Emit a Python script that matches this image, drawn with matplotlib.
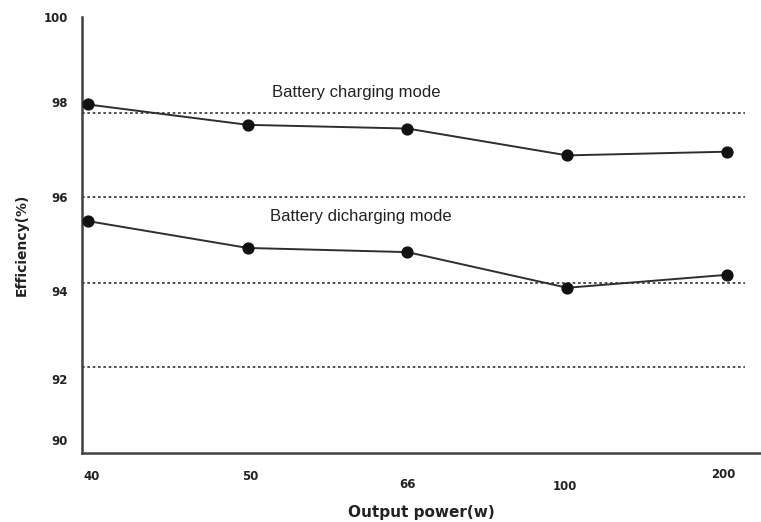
import matplotlib
matplotlib.use("Agg")
import matplotlib.pyplot as plt
from matplotlib.transforms import blended_transform_factory, offset_copy

# ---- data ----
categories = ["40", "50", "66", "100", "200"]
charging = [97.94, 97.50, 97.42, 96.84, 96.92]
discharging = [95.42, 94.84, 94.75, 93.98, 94.26]
ref_lines = [97.76, 95.94, 94.09, 92.26]
ytick_values = [99.83, 98.0, 95.94, 93.91, 92.0, 90.69]
ytick_labels = ["100", "98", "96", "94", "92", "90"]
label_charge = "Battery charging mode"
label_discharge = "Battery dicharging mode"

fig = plt.figure(figsize=(7.61, 5.22), dpi=100)
ax = fig.add_axes([82/761, 69/522, 1 - 82/761, (453-17)/522])

x = list(range(len(categories)))
ax.plot(x, charging, color="#2e2e2e", lw=1.4, marker="o", ms=7.8,
        mfc="#111111", mec="#111111", zorder=3)
ax.plot(x, discharging, color="#2e2e2e", lw=1.4, marker="o", ms=7.8,
        mfc="#111111", mec="#111111", zorder=3)

for v in ref_lines:
    ax.plot([-0.04, 4.11], [v, v], color="#333333", lw=1.2, ls=(0, (1.6, 1.6)), zorder=2)

ax.set_xlim(-0.0376, 4.213)
ax.set_ylim(90.41, 99.785)

ax.text(1.152, 98.19, label_charge, fontsize=12, family="Liberation Sans",
        color="#222222", va="center", ha="left")
ax.text(1.14, 95.53, label_discharge, fontsize=12, family="Liberation Sans",
        color="#222222", va="center", ha="left")

for s in ["top", "right"]:
    ax.spines[s].set_visible(False)
for s in ["left", "bottom"]:
    ax.spines[s].set_linewidth(1.8)
    ax.spines[s].set_color("#404040")

ax.set_yticks(ytick_values)
ax.set_yticklabels(ytick_labels, fontsize=8.5, fontweight="bold", color="#222222")
ax.tick_params(axis="y", length=0, pad=10)
ax.set_xticks([])
for lbl in ax.get_yticklabels():
    lbl.set_clip_on(False)

# staggered x labels as in the reference
trans = blended_transform_factory(ax.transData, ax.transAxes)
x_offsets = [(4, -23), (3, -23), (0, -32), (-2, -33), (-4, -21)]
for i, (c, (dx, dy)) in enumerate(zip(categories, x_offsets)):
    t = offset_copy(trans, fig=fig, x=dx, y=dy, units="dots")
    ax.text(i, 0, c, transform=t, fontsize=8.5, fontweight="bold",
            color="#222222", ha="center", va="center")

fig.text(22/761, 1 - 245/522, "Efficiency(%)", rotation=90, fontsize=10,
         fontweight="bold", ha="center", va="center", color="#222222")
fig.text(421/761, 1 - 513/522, "Output power(w)", fontsize=11,
         fontweight="bold", ha="center", va="center", color="#222222")

fig.savefig("out.png", dpi=100)
